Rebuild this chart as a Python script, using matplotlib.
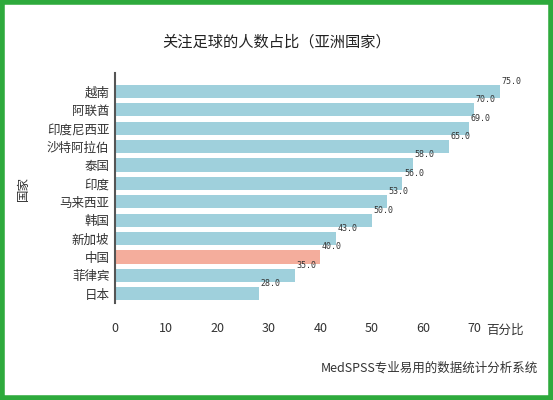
import matplotlib.pyplot as plt
from matplotlib.patches import Rectangle

plt.rcParams['font.family'] = ['Noto Sans CJK SC', 'DejaVu Sans']

countries = ["越南", "阿联酋", "印度尼西亚", "沙特阿拉伯", "泰国", "印度", "马来西亚",
             "韩国", "新加坡", "中国", "菲律宾", "日本"]
values = [75.0, 70.0, 69.0, 65.0, 58.0, 56.0, 53.0, 50.0, 43.0, 40.0, 35.0, 28.0]
xticks = [0, 10, 20, 30, 40, 50, 60, 70]

fig = plt.figure(figsize=(5.53, 4.0), dpi=100)
ax = fig.add_axes([115 / 553, 97 / 400, 390 / 553, 230 / 400])

colors = ["#f4ad9c" if c == "中国" else "#9fd0dc" for c in countries]
pos = list(range(len(countries)))
ax.barh(pos, values, height=0.72, color=colors)
ax.set_ylim(len(countries) - 0.5, -1.0)
ax.set_xlim(0, 76)
ax.set_yticks(pos)
ax.set_yticklabels(countries, fontsize=9, color="#333333")
ax.set_xticks(xticks)
ax.tick_params(axis="x", length=0, labelsize=9, colors="#333333", pad=14)
ax.tick_params(axis="y", length=0, pad=4)
for s in ["top", "right", "bottom"]:
    ax.spines[s].set_visible(False)
ax.spines["left"].set_color("#555555")
ax.spines["left"].set_linewidth(1.5)

for p, v in zip(pos, values):
    ax.text(v + 0.3, p - 0.3, f"{v:.1f}", fontsize=6, family="DejaVu Sans Mono",
            color="#333333", va="bottom", ha="left")

ax.set_ylabel("国家", fontsize=9, color="#333333", labelpad=12)
fig.text(505 / 553, 1 - 330 / 400, "百分比", fontsize=9, color="#333333", ha="center", va="center")
fig.text(0.5, 1 - 42 / 400, "关注足球的人数占比（亚洲国家）", fontsize=11, color="#222222",
         ha="center", va="center")
fig.text(538 / 553, 1 - 368 / 400, "MedSPSS专业易用的数据统计分析系统", fontsize=9,
         color="#333333", ha="right", va="center", style="italic")

fig.patches.append(Rectangle((0.004, 0.005), 0.992, 0.99, transform=fig.transFigure,
                             fill=False, edgecolor="#2eaa3c", linewidth=4))
fig.savefig("out.png", dpi=100, facecolor="white")
